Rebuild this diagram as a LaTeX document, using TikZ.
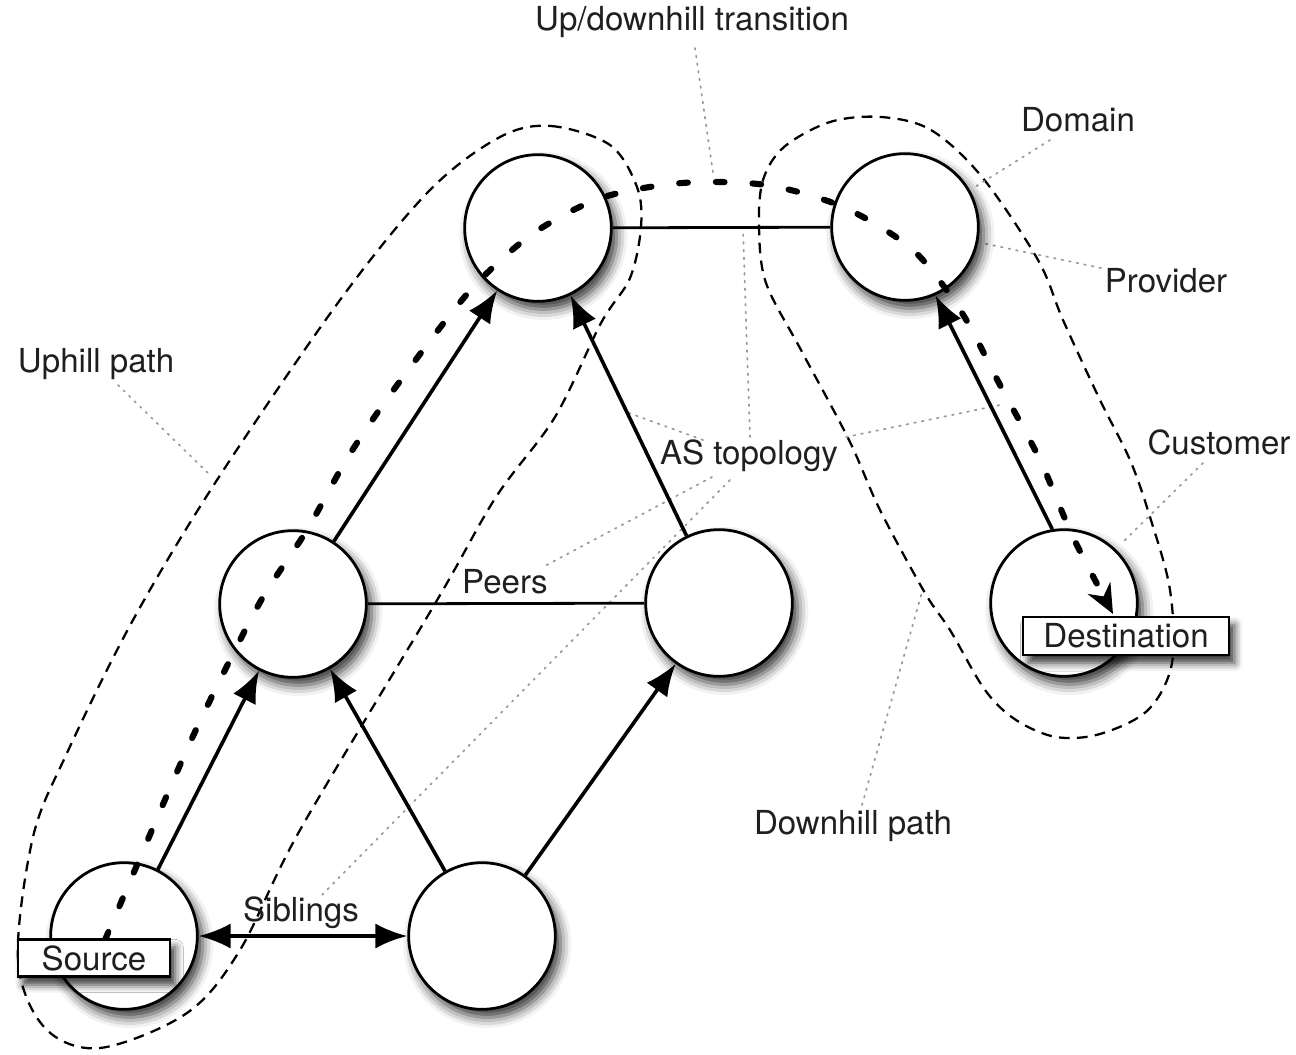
\documentclass[tikz,border=0pt]{standalone}
\usepackage{fontspec}
\setmainfont{TeX Gyre Heros}
\usetikzlibrary{arrows.meta,shadows.blur}
\begin{document}
\begin{tikzpicture}[x=0.75pt,y=-0.75pt,
  as/.style={circle,draw=black,line width=2.1pt,fill=white,minimum size=110pt,inner sep=0pt,
    blur shadow={shadow xshift=4pt,shadow yshift=-6pt,shadow blur radius=8pt,shadow opacity=80}},
  lbl/.style={font=\fontsize{24.8}{28}\selectfont,text=black!88,inner sep=1pt},
  tagbox/.style={draw=black,line width=1.8pt,fill=white,inner sep=0pt,font=\fontsize{24.8}{28}\selectfont,text=black!88,
    blur shadow={shadow xshift=4pt,shadow yshift=-6pt,shadow blur radius=6pt,shadow opacity=80}},
  arr/.style={line width=2.7pt,-{Latex[length=24pt,width=19pt]}},
  darr/.style={line width=2.7pt,{Latex[length=24pt,width=19pt]}-{Latex[length=24pt,width=19pt]}},
  link/.style={line width=2.1pt},
  region/.style={line width=1.7pt,dash pattern=on 8pt off 5.5pt},
  route/.style={line width=4.6pt,line cap=round,dash pattern=on 6.5pt off 21pt,-{Stealth[length=22pt,width=19pt,inset=7pt]}},
  pointer/.style={gray!80,line width=1.3pt,dash pattern=on 1.3pt off 4.5pt,line cap=round}
]
\path[use as bounding box] (0,0) rectangle (1296,1054);

% domains (dashed outlines)
\draw[region] plot[smooth cycle,tension=0.55] coordinates {
  (500,137) (551,126) (610,145) (637,187) (641,227) (630,278) (601,323) (555,417)
  (496,497) (436,602) (300,830) (240,950) (187,1013) (100,1048) (45,1028)
  (18,960) (33,837) (67,753) (133,620) (217,480) (340,300) (430,190)};
\draw[region] plot[smooth cycle,tension=0.55] coordinates {
  (881,117) (931,130) (982,177) (1038,260) (1063,320) (1100,400) (1130,460)
  (1150,517) (1170,590) (1172,663) (1148,710) (1100,734) (1056,737) (1016,720)
  (985,690) (950,630) (925,593) (880,510) (849,440) (801,350) (766,283)
  (759,227) (763,180) (784,147) (830,122)};

% labels
\node[lbl] (trans) at (692,22) {Up/downhill transition};
\node[lbl] (domain) at (1078,120) {Domain};
\node[lbl] (provider) at (1166,281) {Provider};
\node[lbl] (uphill) at (96,364) {Uphill path};
\node[lbl] (astopo) at (749,456) {AS topology};
\node[lbl] (customer) at (1219,442) {Customer};
\node[lbl] (peers) at (505,582) {Peers};
\node[lbl] (siblings) at (301,913) {Siblings};
\node[lbl] (downhill) at (853,826) {Downhill path};

% pointer ends
\coordinate (p-up1) at (118,385);   \coordinate (p-up2) at (210,475);
\coordinate (p-tr1) at (695,48);    \coordinate (p-tr2) at (713,173);
\coordinate (p-do1) at (1050,140);  \coordinate (p-do2) at (975,187);
\coordinate (p-pr1) at (1101,268);  \coordinate (p-pr2) at (982,243);
\coordinate (p-cu1) at (1203,463);  \coordinate (p-cu2) at (1122,543);
\coordinate (p-dh1) at (862,805);   \coordinate (p-dh2) at (922,592);
\coordinate (p-asa1) at (750,437);  \coordinate (p-asa2) at (743,230);
\coordinate (p-asb1) at (703,440);  \coordinate (p-asb2) at (629,413);
\coordinate (p-asc1) at (846,437);  \coordinate (p-asc2) at (1000,405);
\coordinate (p-asd1) at (712,477);  \coordinate (p-asd2) at (543,567);
\coordinate (p-ase1) at (730,480);  \coordinate (p-ase2) at (320,897);

\draw[pointer] (p-up1) -- (p-up2);
\draw[pointer] (p-tr1) -- (p-tr2);
\draw[pointer] (p-do1) -- (p-do2);
\draw[pointer] (p-pr1) -- (p-pr2);
\draw[pointer] (p-cu1) -- (p-cu2);
\draw[pointer] (p-dh1) -- (p-dh2);
\draw[pointer] (p-asa1) -- (p-asa2);
\draw[pointer] (p-asb1) -- (p-asb2);
\draw[pointer] (p-asc1) -- (p-asc2);
\draw[pointer] (p-asd1) -- (p-asd2);
\draw[pointer] (p-ase1) -- (p-ase2);

% AS nodes
\node[as] (T1) at (538,228) {};
\node[as] (T2) at (905,227) {};
\node[as] (M1) at (293,604) {};
\node[as] (M2) at (719,603) {};
\node[as] (B1) at (124,936) {};
\node[as] (B2) at (482,936) {};
\node[as] (D)  at (1064,603) {};

% links
\draw[link] (T1) -- (T2);
\draw[link] (M1) -- (M2);
\draw[arr] (B1) -- (M1);
\draw[arr] (M1) -- (T1);
\draw[arr] (B2) -- (M1);
\draw[arr] (B2) -- (M2);
\draw[arr] (M2) -- (T1);
\draw[arr] (D.99) -- (T2.-66);
\draw[darr] (B1) -- (B2);

% route
\draw[route] plot[smooth,tension=0.5] coordinates {
  (105,940) (140,858) (188,747) (225,670) (263,597) (307,530) (348,457) (395,388)
  (468,293) (531,235) (601,198) (682,183) (766,185) (843,207) (913,250) (962,313)
  (1000,385) (1040,460) (1073,537) (1113,614)};

% endpoint tags
\node[tagbox,minimum width=114pt,minimum height=28pt] (src) at (94,958) {Source};
\node[tagbox,minimum width=154.5pt,minimum height=28.5pt] (dst) at (1126,636) {Destination};
\end{tikzpicture}
\end{document}
